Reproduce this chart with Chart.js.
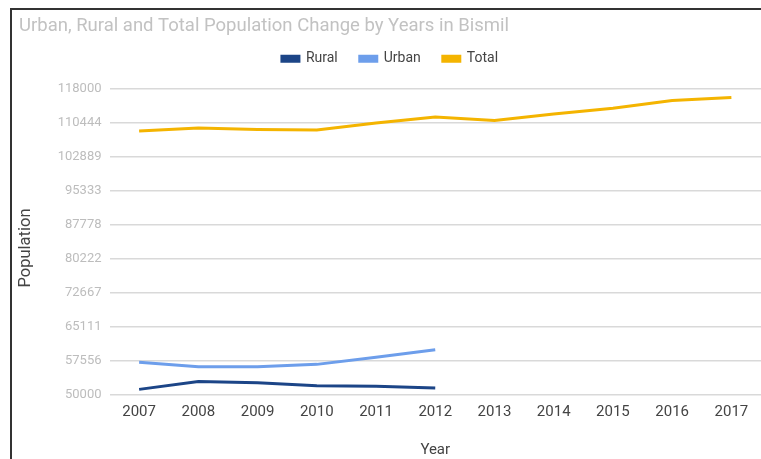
<!DOCTYPE html>
<html>
<head>
<meta charset="utf-8">
<script src="https://cdn.jsdelivr.net/npm/chart.js@4"></script>
<style>
  html, body { margin: 0; padding: 0; background: #fff; }
  #frame {
    position: absolute; left: 10px; top: 8px;
    width: 751px; height: 451px;
    border-left: 2px solid #333; border-top: 2px solid #333;
    box-sizing: border-box;
  }
  #wrap { position: absolute; left: 0; top: 0; width: 749px; height: 449px; }
</style>
</head>
<body>
<div id="frame"><div id="wrap"><canvas id="popChart"></canvas></div></div>
<script>
let years = ['2007','2008','2009','2010','2011','2012','2013','2014','2015','2016','2017']
let rural = [51250, 53020, 52740, 52070, 51920, 51560, null, null, null, null, null]
let urban = [57250, 56290, 56290, 56800, 58360, 60070, null, null, null, null, null]
let total = [108625, 109290, 108930, 108850, 110360, 111740, 110940, 112400, 113670, 115380, 116050]
let yTicks = [50000, 57556, 65111, 72667, 80222, 87778, 95333, 102889, 110444, 118000]
let colors = ['#1c4587', '#6d9eeb', '#f4b400']

Chart.defaults.font.family = 'Roboto'

// extra room under the legend before the plot starts
let legendGap = {
    id: 'legendGap',
    beforeInit: function (chart) {
        let fit = chart.legend.fit
        chart.legend.fit = function () {
            fit.call(this)
            this.height += 13
        }
    },
}

let ctx = document.getElementById('popChart').getContext('2d')
let popChart = new Chart(ctx, {
    type: 'line',
    data: {
        labels: years,
        datasets: [
            { label: 'Rural', data: rural, borderColor: colors[0], backgroundColor: colors[0] },
            { label: 'Urban', data: urban, borderColor: colors[1], backgroundColor: colors[1] },
            { label: 'Total', data: total, borderColor: colors[2], backgroundColor: colors[2] },
        ],
    },
    plugins: [legendGap],
    options: {
        responsive: true,
        maintainAspectRatio: false,
        animation: false,
        layout: { padding: { left: 7, right: 0, top: 0, bottom: 0 } },
        elements: {
            line: { borderWidth: 3, tension: 0 },
            point: { radius: 0 },
        },
        plugins: {
            title: {
                display: true,
                text: 'Urban, Rural and Total Population Change by Years in Bismil',
                align: 'start',
                color: '#c2c2c2',
                font: { size: 18.5, weight: 'normal' },
                padding: { top: 5.5, bottom: -8 },
            },
            legend: {
                position: 'top',
                labels: {
                    boxWidth: 17,
                    boxHeight: 5,
                    padding: 22,
                    color: '#444',
                    font: { size: 14 },
                },
            },
            tooltip: { enabled: false },
        },
        scales: {
            x: {
                offset: true,
                grid: { display: false },
                border: { display: false },
                ticks: { color: '#444', font: { size: 15 }, padding: 0, maxRotation: 0 },
                title: {
                    display: true, text: 'Year', color: '#444',
                    font: { size: 15 }, padding: { top: 20, bottom: 0 },
                },
                afterFit: function (scale) { scale.height = 64 },
            },
            y: {
                min: 50000,
                max: 118000,
                afterBuildTicks: function (scale) {
                    scale.ticks = yTicks.map(v => ({ value: v }))
                },
                grid: { color: '#d9d9d9', lineWidth: 1.5, drawTicks: false },
                border: { display: false },
                ticks: {
                    color: '#bdbdbd', font: { size: 13 }, padding: 8,
                    callback: function (v) { return String(v) },
                },
                title: {
                    display: true, text: 'Population   ', color: '#444',
                    font: { size: 16.5 }, padding: { top: -3, bottom: 0 },
                },
                afterFit: function (scale) { scale.width = 90.5 },
            },
        },
    },
})
</script>
</body>
</html>
